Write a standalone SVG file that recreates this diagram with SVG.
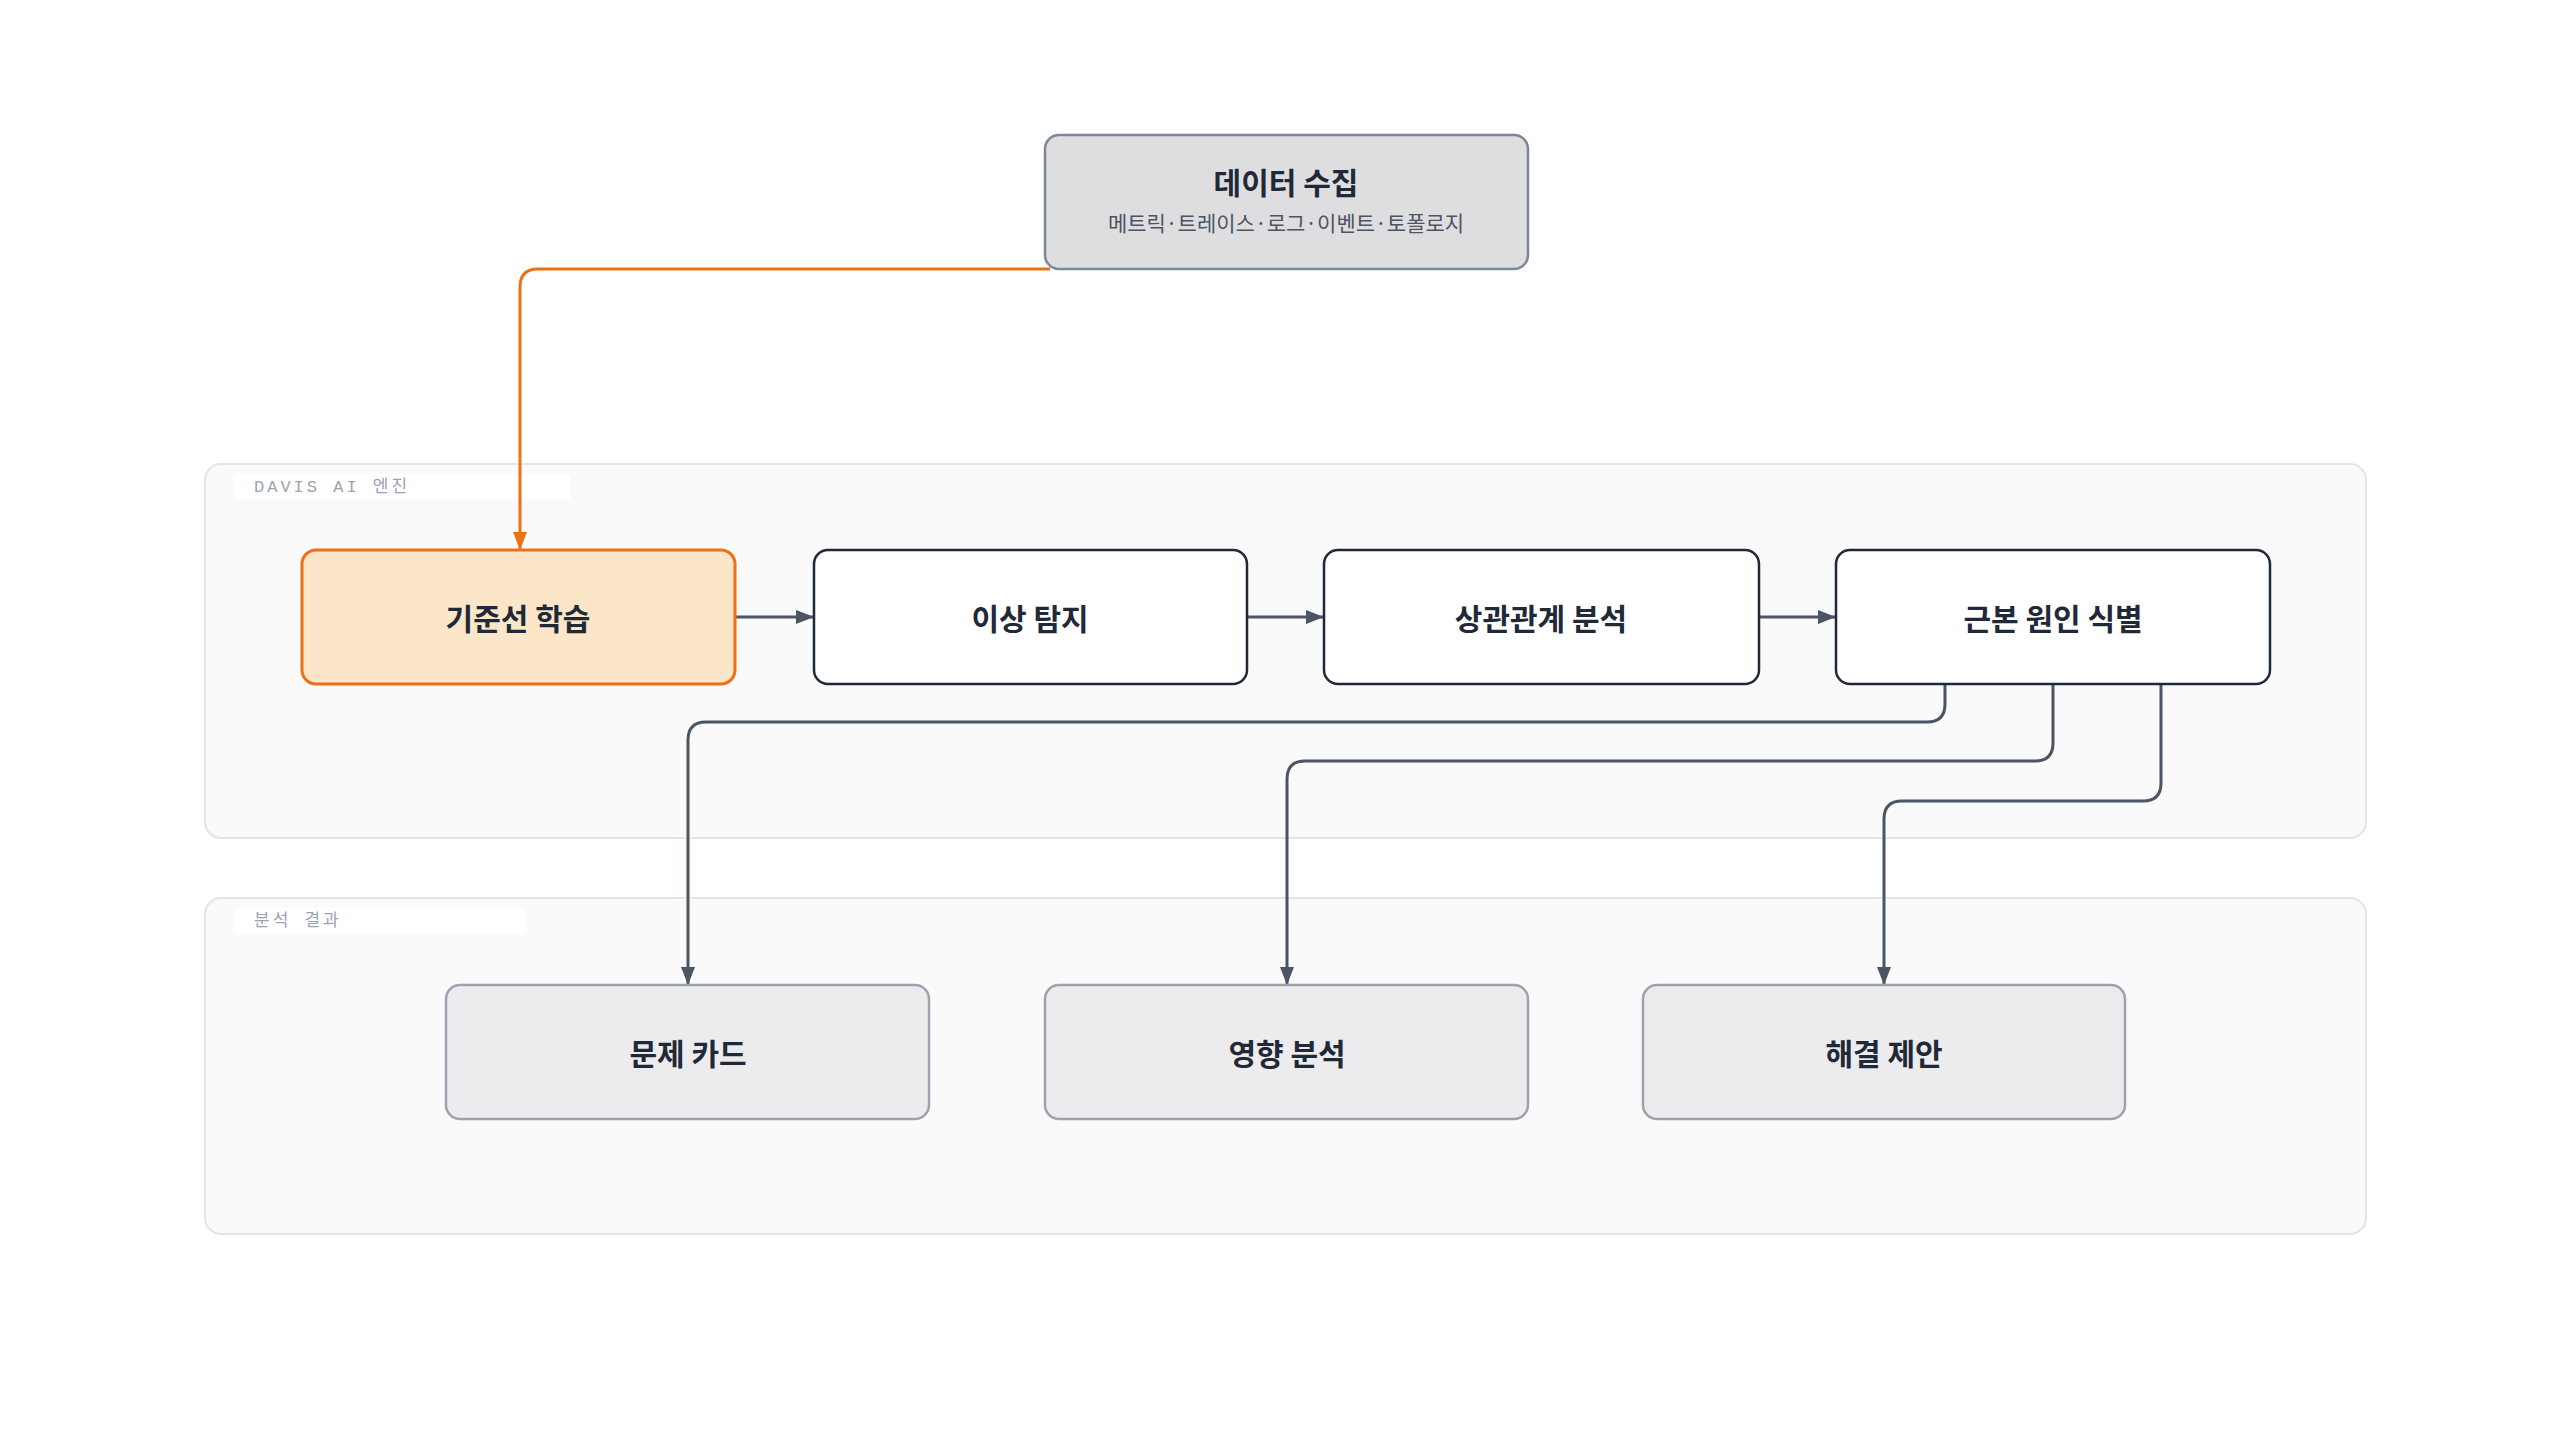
<svg xmlns="http://www.w3.org/2000/svg" width="2560" height="1440" viewBox="0 0 2560 1440">
<style>
.t{font-family:"Noto Sans CJK KR","Noto Sans",sans-serif;font-weight:700;font-size:30px;fill:#1f2937;text-anchor:middle;dominant-baseline:central}
.s{font-family:"Noto Sans CJK KR","Noto Sans",sans-serif;font-size:21px;fill:#4b5563;text-anchor:middle;dominant-baseline:central}
.g{font-family:"Liberation Mono","Noto Sans CJK KR",monospace;font-size:17px;fill:#9ca3af;letter-spacing:3px;dominant-baseline:central}
.grp{fill:#fafafa;stroke:#e5e5e5;stroke-width:2}
.lbl{fill:#ffffff}
.w{fill:#ffffff;stroke:#1f2937;stroke-width:2.5}
.o{fill:#fbe6c9;stroke:#ed7014;stroke-width:3}
.r{fill:#ececee;stroke:#9ca3af;stroke-width:2.5}
.c{fill:none;stroke:#4b5563;stroke-width:3}
</style>
<defs>
<marker id="a" viewBox="0 0 10 10" refX="10" refY="5" markerWidth="6" markerHeight="6" markerUnits="userSpaceOnUse" orient="auto" style="overflow:visible"><path d="M0,0L10,5L0,10z" fill="#4b5563" transform="scale(1.8) translate(-4.5,-2.2)"/></marker>
<marker id="ah" viewBox="0 0 18 18" refX="18" refY="9" markerWidth="18" markerHeight="18" markerUnits="userSpaceOnUse" orient="auto"><path d="M0,2L18,9L0,16z" fill="#4b5563"/></marker>
<marker id="ao" viewBox="0 0 18 18" refX="18" refY="9" markerWidth="18" markerHeight="18" markerUnits="userSpaceOnUse" orient="auto"><path d="M0,2L18,9L0,16z" fill="#ed7014"/></marker>
</defs>
<rect width="2560" height="1440" fill="#ffffff"/>
<g id="group-engine"><rect class="grp" x="205" y="464" width="2161" height="374" rx="16"/><rect class="lbl" x="235" y="474" width="336" height="26" rx="4"/><text class="g" x="254" y="487">DAVIS AI 엔진</text></g>
<g id="group-result"><rect class="grp" x="205" y="898" width="2161" height="336" rx="16"/><rect class="lbl" x="235" y="907" width="290" height="27" rx="4"/><text class="g" x="254" y="921">분석 결과</text></g>
<g id="connectors">
<path d="M1050,269H538Q520,269 520,287V550" fill="none" stroke="#ed7014" stroke-width="3" marker-end="url(#ao)"/>
<path class="c" d="M735,617H814" marker-end="url(#ah)"/>
<path class="c" d="M1247,617H1324" marker-end="url(#ah)"/>
<path class="c" d="M1759,617H1836" marker-end="url(#ah)"/>
<path class="c" d="M1945,684V704Q1945,722 1927,722H706Q688,722 688,740V985" marker-end="url(#ah)"/>
<path class="c" d="M2053,684V743Q2053,761 2035,761H1305Q1287,761 1287,779V985" marker-end="url(#ah)"/>
<path class="c" d="M2161,684V783Q2161,801 2143,801H1902Q1884,801 1884,819V985" marker-end="url(#ah)"/>
</g>
<g id="node-data"><rect x="1045" y="135" width="483" height="134" rx="14" fill="#dedee0" stroke="#7d8896" stroke-width="2.5"/><text class="t" x="1286" y="181">데이터 수집</text><text class="s" x="1286" y="222">메트릭·트레이스·로그·이벤트·토폴로지</text></g>
<g id="node-baseline"><rect class="o" x="302" y="550" width="433" height="134" rx="14"/><text class="t" x="518" y="617">기준선 학습</text></g>
<g id="node-anomaly"><rect class="w" x="814" y="550" width="433" height="134" rx="14"/><text class="t" x="1030" y="617">이상 탐지</text></g>
<g id="node-correlation"><rect class="w" x="1324" y="550" width="435" height="134" rx="14"/><text class="t" x="1541" y="617">상관관계 분석</text></g>
<g id="node-rootcause"><rect class="w" x="1836" y="550" width="434" height="134" rx="14"/><text class="t" x="2053" y="617">근본 원인 식별</text></g>
<g id="node-problem"><rect class="r" x="446" y="985" width="483" height="134" rx="14"/><text class="t" x="688" y="1052">문제 카드</text></g>
<g id="node-impact"><rect class="r" x="1045" y="985" width="483" height="134" rx="14"/><text class="t" x="1287" y="1052">영향 분석</text></g>
<g id="node-fix"><rect class="r" x="1643" y="985" width="482" height="134" rx="14"/><text class="t" x="1884" y="1052">해결 제안</text></g>
</svg>
